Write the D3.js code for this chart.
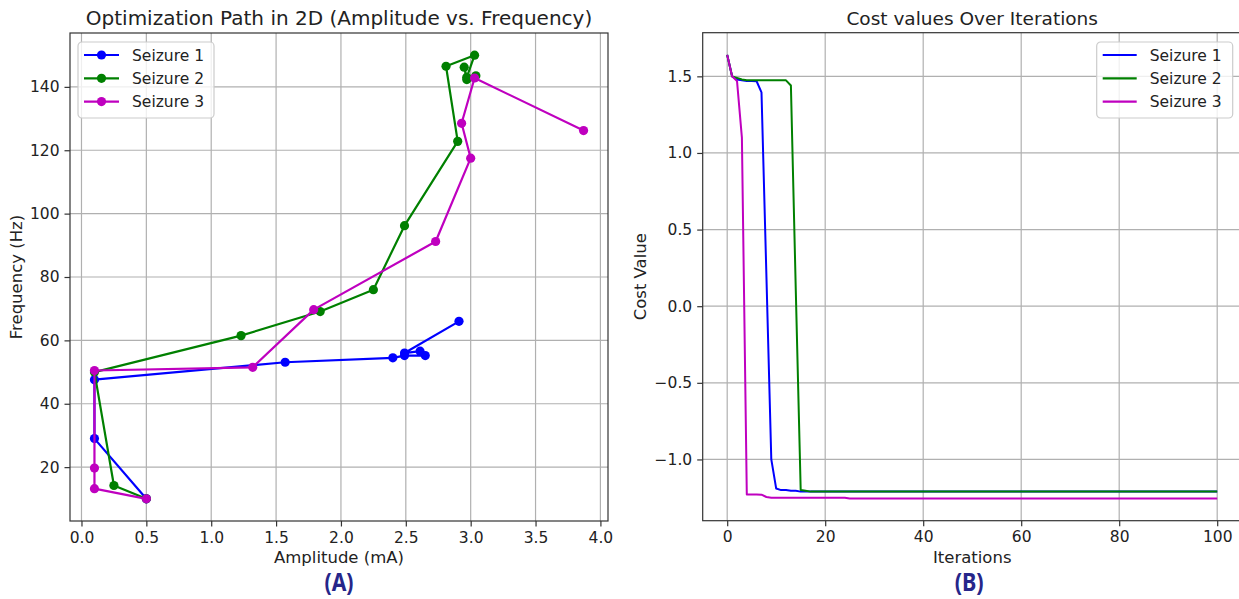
<!DOCTYPE html>
<html>
<head>
<meta charset="utf-8">
<script src="https://cdn.jsdelivr.net/npm/d3@7"></script>
<style>
  body { margin: 0; background: #fff; }
  svg { display: block; font-family: "DejaVu Sans", sans-serif; }
</style>
</head>
<body>
<div id="chart"></div>
<script>
// ---- data ----
const seizureNames = ["Seizure 1", "Seizure 2", "Seizure 3"];
const seizureColors = ["#0000ff", "#008000", "#bf00bf"];

// path in (amplitude, frequency) space
const amp1  = [0.5, 0.1, 0.1, 1.57, 2.40, 2.49, 2.65, 2.61, 2.49, 2.91];
const freq1 = [10, 29, 47.6, 53.1, 54.5, 55.2, 55.2, 56.6, 56.0, 66.0];
const amp2  = [0.5, 0.25, 0.1, 1.23, 1.84, 2.25, 2.49, 2.90, 2.81, 3.03, 2.97, 2.95, 2.97, 3.04];
const freq2 = [10, 14.2, 50, 61.5, 69.1, 76, 96.2, 122.8, 146.5, 150, 143, 146.2, 142.3, 143.5];
const amp3  = [0.5, 0.1, 0.1, 0.1, 1.32, 1.79, 2.73, 3.00, 2.93, 3.03, 3.87];
const freq3 = [10, 13.2, 19.7, 50.5, 51.5, 69.7, 91.2, 117.5, 128.5, 142.8, 126.2];

// cost per iteration (index = iteration)
const cost1 = [
  1.64, 1.50, 1.48, 1.475, 1.47, 1.47, 1.468, 1.395, 0.20, -1.00,
  -1.19, -1.20, -1.20, -1.205, -1.205, -1.21, -1.21, -1.21, -1.21, -1.21,
  -1.21, -1.21, -1.21, -1.21, -1.21, -1.21, -1.21, -1.21, -1.21, -1.21,
  -1.21, -1.21, -1.21, -1.21, -1.21, -1.21, -1.21, -1.21, -1.21, -1.21,
  -1.21, -1.21, -1.21, -1.21, -1.21, -1.21, -1.21, -1.21, -1.21, -1.21,
  -1.21, -1.21, -1.21, -1.21, -1.21, -1.21, -1.21, -1.21, -1.21, -1.21,
  -1.21, -1.21, -1.21, -1.21, -1.21, -1.21, -1.21, -1.21, -1.21, -1.21,
  -1.21, -1.21, -1.21, -1.21, -1.21, -1.21, -1.21, -1.21, -1.21, -1.21,
  -1.21, -1.21, -1.21, -1.21, -1.21, -1.21, -1.21, -1.21, -1.21, -1.21,
  -1.21, -1.21, -1.21, -1.21, -1.21, -1.21, -1.21, -1.21, -1.21, -1.21,
  -1.21
];
const cost2 = [
  1.64, 1.50, 1.49, 1.48, 1.475, 1.475, 1.475, 1.475, 1.475, 1.475,
  1.475, 1.475, 1.474, 1.44, 0.10, -1.20, -1.205, -1.21, -1.21, -1.21,
  -1.21, -1.21, -1.21, -1.21, -1.21, -1.21, -1.21, -1.21, -1.21, -1.21,
  -1.21, -1.21, -1.21, -1.21, -1.21, -1.21, -1.21, -1.21, -1.21, -1.21,
  -1.21, -1.21, -1.21, -1.21, -1.21, -1.21, -1.21, -1.21, -1.21, -1.21,
  -1.21, -1.21, -1.21, -1.21, -1.21, -1.21, -1.21, -1.21, -1.21, -1.21,
  -1.21, -1.21, -1.21, -1.21, -1.21, -1.21, -1.21, -1.21, -1.21, -1.21,
  -1.21, -1.21, -1.21, -1.21, -1.21, -1.21, -1.21, -1.21, -1.21, -1.21,
  -1.21, -1.21, -1.21, -1.21, -1.21, -1.21, -1.21, -1.21, -1.21, -1.21,
  -1.21, -1.21, -1.21, -1.21, -1.21, -1.21, -1.21, -1.21, -1.21, -1.21,
  -1.21
];
const cost3 = [
  1.64, 1.50, 1.47, 1.10, -1.228, -1.228, -1.228, -1.23, -1.245, -1.25,
  -1.25, -1.25, -1.25, -1.25, -1.25, -1.25, -1.25, -1.25, -1.25, -1.25,
  -1.25, -1.25, -1.25, -1.25, -1.25, -1.255, -1.255, -1.255, -1.255, -1.255,
  -1.255, -1.255, -1.255, -1.255, -1.255, -1.255, -1.255, -1.255, -1.255, -1.255,
  -1.255, -1.255, -1.255, -1.255, -1.255, -1.255, -1.255, -1.255, -1.255, -1.255,
  -1.255, -1.255, -1.255, -1.255, -1.255, -1.255, -1.255, -1.255, -1.255, -1.255,
  -1.255, -1.255, -1.255, -1.255, -1.255, -1.255, -1.255, -1.255, -1.255, -1.255,
  -1.255, -1.255, -1.255, -1.255, -1.255, -1.255, -1.255, -1.255, -1.255, -1.255,
  -1.255, -1.255, -1.255, -1.255, -1.255, -1.255, -1.255, -1.255, -1.255, -1.255,
  -1.255, -1.255, -1.255, -1.255, -1.255, -1.255, -1.255, -1.255, -1.255, -1.255,
  -1.255
];

const ampTicks = [0, 0.5, 1, 1.5, 2, 2.5, 3, 3.5, 4];
const freqTicks = [20, 40, 60, 80, 100, 120, 140];
const iterTicks = [0, 20, 40, 60, 80, 100];
const costTicks = [-1.0, -0.5, 0.0, 0.5, 1.0, 1.5];

// ---- drawing ----
const width = 1239, height = 599;
const svg = d3.select("#chart").append("svg")
  .attr("width", width).attr("height", height);

const textColor = "#222";
const gridColor = "#b0b0b0";
const minus = s => s.replace("-", "\u2212");

// matplotlib style 5% padding
function padded(vals) {
  const [lo, hi] = d3.extent(vals);
  const m = (hi - lo) * 0.05;
  return [lo - m, hi + m];
}

function panel(box, xDom, yDom, xTicks, yTicks, xFmt, yFmt, opts) {
  const x = d3.scaleLinear().domain(xDom).range([box.left, box.right]);
  const y = d3.scaleLinear().domain(yDom).range([box.bottom, box.top]);
  const g = svg.append("g");

  // grid
  g.append("g").selectAll("line").data(xTicks).enter().append("line")
    .attr("x1", d => x(d)).attr("x2", d => x(d))
    .attr("y1", box.top).attr("y2", box.bottom)
    .attr("stroke", gridColor).attr("stroke-width", 1.2);
  g.append("g").selectAll("line").data(yTicks).enter().append("line")
    .attr("y1", d => y(d)).attr("y2", d => y(d))
    .attr("x1", box.left).attr("x2", box.right)
    .attr("stroke", gridColor).attr("stroke-width", 1.2);

  const series = g.append("g");

  // axes
  const ax = g.append("g")
    .attr("transform", `translate(0,${box.bottom})`)
    .call(d3.axisBottom(x).tickValues(xTicks).tickFormat(xFmt).tickSize(5.5).tickPadding(5));
  const ay = g.append("g")
    .attr("transform", `translate(${box.left},0)`)
    .call(d3.axisLeft(y).tickValues(yTicks).tickFormat(yFmt).tickSize(5.5).tickPadding(5));
  [ax, ay].forEach(a => {
    a.select(".domain").remove();
    a.selectAll("line").attr("stroke", "#333").attr("stroke-width", 1.2);
    a.selectAll("text").attr("fill", textColor)
      .style("font-size", "15.5px").style("font-family", "DejaVu Sans");
  });

  // frame
  g.append("rect")
    .attr("x", box.left).attr("y", box.top)
    .attr("width", box.right - box.left).attr("height", box.bottom - box.top)
    .attr("fill", "none").attr("stroke", "#333").attr("stroke-width", 1.2);

  // title and labels
  const cx = (box.left + box.right) / 2;
  g.append("text").attr("x", cx).attr("y", box.top - 8)
    .attr("text-anchor", "middle").attr("fill", textColor)
    .style("font-size", opts.titleSize).text(opts.title);
  g.append("text").attr("x", cx).attr("y", box.bottom + 42)
    .attr("text-anchor", "middle").attr("fill", textColor)
    .style("font-size", "16.5px").text(opts.xLabel);
  g.append("text")
    .attr("transform", `translate(${opts.yLabelX},${(box.top + box.bottom) / 2}) rotate(-90)`)
    .attr("text-anchor", "middle").attr("fill", textColor)
    .style("font-size", "16.5px").text(opts.yLabel);
  g.append("text").attr("x", cx + opts.tagDx).attr("y", 591)
    .attr("text-anchor", "middle").attr("fill", "#26268a")
    .style("font-family", "'Noto Sans', sans-serif")
    .style("font-weight", "bold").style("font-size", "25px")
    .attr("textLength", 29).attr("lengthAdjust", "spacingAndGlyphs")
    .text(opts.tag);

  return { x, y, series, g };
}

// ---- left panel: optimization path ----
const ampSets = [amp1, amp2, amp3];
const freqSets = [freq1, freq2, freq3];
const left = panel(
  { left: 70, right: 608, top: 33, bottom: 521 },
  padded(ampSets.flat()), padded(freqSets.flat()),
  ampTicks, freqTicks, d3.format(".1f"), d3.format("d"),
  { title: "Optimization Path in 2D (Amplitude vs. Frequency)", titleSize: "20px",
    xLabel: "Amplitude (mA)", yLabel: "Frequency (Hz)", yLabelX: 22,
    tag: "(A)", tagDx: 0 }
);

seizureNames.forEach((name, i) => {
  const pts = ampSets[i].map((a, j) => [a, freqSets[i][j]]);
  const line = d3.line().x(d => left.x(d[0])).y(d => left.y(d[1]));
  left.series.append("path").datum(pts)
    .attr("d", line).attr("fill", "none")
    .attr("stroke", seizureColors[i]).attr("stroke-width", 2.2)
    .attr("stroke-linejoin", "round");
  left.series.append("g").selectAll("circle").data(pts).enter().append("circle")
    .attr("cx", d => left.x(d[0])).attr("cy", d => left.y(d[1]))
    .attr("r", 4.6).attr("fill", seizureColors[i]);
});

// ---- right panel: cost over iterations ----
const costSets = [cost1, cost2, cost3];
const iterations = d3.range(cost1.length);
const right = panel(
  { left: 702.7, right: 1241.7, top: 32.7, bottom: 520.7 },
  padded(iterations), padded(costSets.flat()),
  iterTicks, costTicks, d3.format("d"), d => minus(d3.format(".1f")(d)),
  { title: "Cost values Over Iterations", titleSize: "18.5px",
    xLabel: "Iterations", yLabel: "Cost Value", yLabelX: 646,
    tag: "(B)", tagDx: -3 }
);

seizureNames.forEach((name, i) => {
  const line = d3.line().x((d, j) => right.x(iterations[j])).y(d => right.y(d));
  right.series.append("path").datum(costSets[i])
    .attr("d", line).attr("fill", "none")
    .attr("stroke", seizureColors[i]).attr("stroke-width", 2)
    .attr("stroke-linejoin", "round");
});

// ---- legends ----
function legend(x0, y0, w, withMarkers, handleW, textDx) {
  const lg = svg.append("g").attr("transform", `translate(${x0},${y0})`);
  lg.append("rect").attr("width", w).attr("height", 76).attr("rx", 4)
    .attr("fill", "#fff").attr("fill-opacity", 0.8)
    .attr("stroke", "#cccccc").attr("stroke-width", 1.2);
  seizureNames.forEach((name, i) => {
    const cy = 13 + i * 23.3;
    lg.append("line").attr("x1", 6).attr("x2", 6 + handleW)
      .attr("y1", cy).attr("y2", cy)
      .attr("stroke", seizureColors[i]).attr("stroke-width", 2.2);
    if (withMarkers) {
      lg.append("circle").attr("cx", 6 + handleW / 2).attr("cy", cy)
        .attr("r", 4.6).attr("fill", seizureColors[i]);
    }
    lg.append("text").attr("x", textDx).attr("y", cy).attr("dy", "0.36em")
      .attr("fill", textColor).style("font-size", "15.5px").text(name);
  });
}
legend(78, 42, 136, true, 35, 54);
legend(1096.7, 42, 136, false, 34, 53);
</script>
</body>
</html>
